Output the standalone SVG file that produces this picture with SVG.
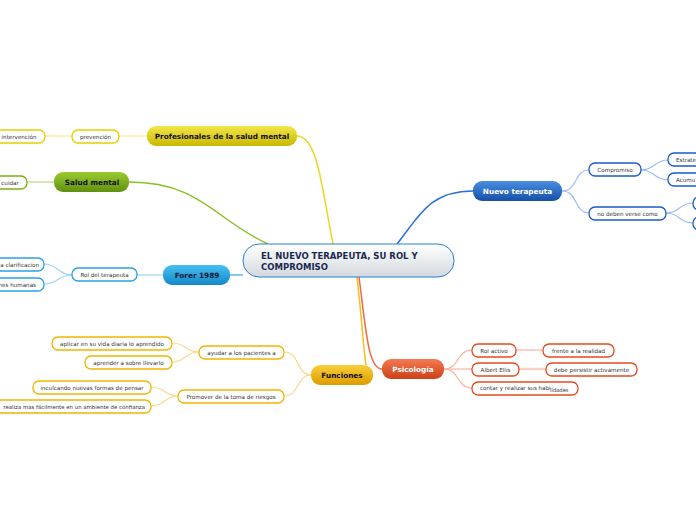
<svg xmlns="http://www.w3.org/2000/svg" width="696" height="520" viewBox="0 0 696 520">
<style>
.leaf{fill:#fff;stroke-width:1.3}
.lt,.ls,.le{font-family:"DejaVu Sans",Verdana,sans-serif;font-size:5.6px;fill:#333}
.lt{text-anchor:middle}.ls{text-anchor:start}.le{text-anchor:end}
.mt{font-family:"DejaVu Sans",Verdana,sans-serif;font-size:7.3px;font-weight:bold;text-anchor:middle}
.ct{font-family:"DejaVu Sans",Verdana,sans-serif;font-size:8.5px;font-weight:bold;fill:#1a2850}
.y{stroke:#e4d000}.g{stroke:#7ab010}.b{stroke:#2aa0e8}.nb{stroke:#1a5cc8}.r{stroke:#e84a20}.o{stroke:#f2b400}
#connectors path{fill:none}
</style>
<defs>
<linearGradient id="gc" x1="0" y1="0" x2="0" y2="1"><stop offset="0" stop-color="#ffffff"/><stop offset="1" stop-color="#d4d9de"/></linearGradient>
<linearGradient id="gy" x1="0" y1="0" x2="0" y2="1"><stop offset="0" stop-color="#f2e64a"/><stop offset="1" stop-color="#c9b800"/></linearGradient>
<linearGradient id="gg" x1="0" y1="0" x2="0" y2="1"><stop offset="0" stop-color="#9ccc30"/><stop offset="1" stop-color="#609010"/></linearGradient>
<linearGradient id="gb" x1="0" y1="0" x2="0" y2="1"><stop offset="0" stop-color="#46c0f0"/><stop offset="1" stop-color="#1488c8"/></linearGradient>
<linearGradient id="gn" x1="0" y1="0" x2="0" y2="1"><stop offset="0" stop-color="#4a8ee0"/><stop offset="1" stop-color="#1650a8"/></linearGradient>
<linearGradient id="gr" x1="0" y1="0" x2="0" y2="1"><stop offset="0" stop-color="#f47a52"/><stop offset="1" stop-color="#cc4018"/></linearGradient>
<linearGradient id="go" x1="0" y1="0" x2="0" y2="1"><stop offset="0" stop-color="#fbcf3a"/><stop offset="1" stop-color="#dc9c00"/></linearGradient>
</defs>
<rect width="696" height="520" fill="#fff"/>
<g id="connectors">
<path d="M297,136 C318,136 322,190 333,244" stroke="#e8d820" stroke-width="1.5"/>
<path d="M129,182 C200,182 215,220 268,244" stroke="#8ac020" stroke-width="1.5"/>
<path d="M230,275 L243,275" stroke="#5ab8e8" stroke-width="1.5"/>
<path d="M473,191 C430,191 420,215 397,244" stroke="#2a70d8" stroke-width="1.5"/>
<path d="M357,277 C362,320 363,345 366,365" stroke="#f6c020" stroke-width="1.5"/>
<path d="M359,277 C366,330 368,369 382,369" stroke="#ee6a40" stroke-width="1.5"/>
<g stroke="#f0ec90" stroke-width="1.2"><path d="M147,136 L119,136"/><path d="M72,136 L45,136"/></g>
<path d="M54,182 L27,182" stroke="#b8d880" stroke-width="1.2"/>
<g stroke="#9ad4f4" stroke-width="1.2"><path d="M163,275 L137,275"/><path d="M72,275 C58,275 58,264 44,264"/><path d="M72,275 C58,275 58,284 44,284"/></g>
<g stroke="#9cbcf0" stroke-width="1.2"><path d="M562,191 C578,191 574,170 589,170"/><path d="M562,191 C578,191 574,213 589,213"/><path d="M641,170 C655,170 654,160 668,160"/><path d="M641,170 C655,170 654,180 668,180"/><path d="M666,213 C680,213 679,203 693,203"/><path d="M666,213 C680,213 679,223 693,223"/></g>
<g stroke="#f8b4a0" stroke-width="1.2"><path d="M444,369 C460,369 456,350 472,350"/><path d="M444,369 L472,369"/><path d="M444,369 C460,369 456,388 472,388"/><path d="M516,350 L543,350"/><path d="M519,369 L546,369" stroke-width="2.5" stroke="#fbd0c4"/></g>
<g stroke="#f8d88c" stroke-width="1.2"><path d="M311,375 C296,375 300,352 284,352"/><path d="M311,375 C296,375 300,396 284,396"/><path d="M199,352 C185,352 186,343 172,343"/><path d="M199,352 C185,352 186,362 172,362"/><path d="M178,396 C164,396 165,387 151,387"/><path d="M178,396 C164,396 165,406 151,406"/></g>
</g>
<g id="center">
<rect x="243" y="244" width="211" height="33" rx="16" fill="url(#gc)" stroke="#2a7fd0" stroke-width="1"/>
<text class="ct" x="261" y="259">EL NUEVO TERAPEUTA, SU ROL Y</text>
<text class="ct" x="261" y="270">COMPROMISO</text>
</g>
<g id="profesionales"><rect x="147" y="126" width="150" height="20" rx="9" fill="url(#gy)"/><text class="mt" x="222" y="138.5" fill="#111">Profesionales de la salud mental</text></g>
<g id="prevencion"><rect class="leaf y" x="72" y="130" width="47" height="13" rx="6"/><text class="lt" x="95.5" y="138.5">prevención</text></g>
<g id="intervencion"><rect class="leaf y" x="-6" y="130" width="51" height="13" rx="6"/><text class="lt" x="19" y="138.5">intervención</text></g>
<g id="salud"><rect x="54" y="172" width="75" height="20" rx="9" fill="url(#gg)"/><text class="mt" x="92" y="184.5" fill="#111">Salud mental</text></g>
<g id="cuidar"><rect class="leaf g" x="-6" y="176" width="33" height="13" rx="6"/><text class="lt" x="10" y="184.5">cuidar</text></g>
<g id="forer"><rect x="163" y="265" width="67" height="20" rx="9" fill="url(#gb)"/><text class="mt" x="197" y="278" fill="#0e1a3a">Forer 1989</text></g>
<g id="rol-terapeuta"><rect class="leaf b" x="72" y="268" width="65" height="13" rx="6"/><text class="lt" x="104.5" y="276.5">Rol del terapeuta</text></g>
<g id="clarificacion"><rect class="leaf b" x="-6" y="258" width="50" height="13" rx="6"/><text class="le" x="39" y="266.5">a clarificacion</text></g>
<g id="humanas"><rect class="leaf b" x="-6" y="278" width="50" height="13" rx="6"/><text class="le" x="36" y="286.5">nes humanas</text></g>
<g id="nuevo"><rect x="473" y="181" width="89" height="20" rx="9" fill="url(#gn)"/><text class="mt" x="517.5" y="193.5" fill="#fff">Nuevo terapeuta</text></g>
<g id="compromiso"><rect class="leaf nb" x="589" y="163" width="52" height="13" rx="6"/><text class="lt" x="615" y="171.5">Compromiso</text></g>
<g id="no-deben"><rect class="leaf nb" x="589" y="207" width="77" height="13" rx="6"/><text class="lt" x="627.5" y="215.5">no deben verse como</text></g>
<g id="estrate"><rect class="leaf nb" x="668" y="153" width="40" height="13" rx="6"/><text class="ls" x="676" y="161.5">Estrate</text></g>
<g id="acumu"><rect class="leaf nb" x="668" y="173" width="40" height="13" rx="6"/><text class="ls" x="676" y="181.5">Acumu</text></g>
<g id="nd1"><rect class="leaf nb" x="693" y="197" width="20" height="13" rx="6"/></g>
<g id="nd2"><rect class="leaf nb" x="693" y="217" width="20" height="13" rx="6"/></g>
<g id="psicologia"><rect x="382" y="359" width="62" height="20" rx="9" fill="url(#gr)"/><text class="mt" x="413" y="371.5" fill="#fff">Psicología</text></g>
<g id="rol-activo"><rect class="leaf r" x="472" y="344" width="44" height="13" rx="6"/><text class="lt" x="494" y="352.5">Rol activo</text></g>
<g id="frente"><rect class="leaf r" x="543" y="344" width="71" height="13" rx="6"/><text class="lt" x="578.5" y="352.5">frente a la realidad</text></g>
<g id="albert"><rect class="leaf r" x="472" y="363" width="47" height="13" rx="6"/><text class="lt" x="495.5" y="371.5">Albert Ellis</text></g>
<g id="debe"><rect class="leaf r" x="546" y="363" width="91" height="13" rx="6"/><text class="lt" x="591.5" y="371.5">debe persistir activamente</text></g>
<g id="contar"><rect class="leaf r" x="472" y="382" width="106" height="13" rx="6"/><text class="ls" x="480" y="390">contar y realizar sus habi<tspan x="550" y="391.5" font-size="5.2">lidades</tspan></text></g>
<g id="funciones"><rect x="311" y="365" width="62" height="20" rx="9" fill="url(#go)"/><text class="mt" x="342" y="377.5" fill="#111">Funciones</text></g>
<g id="ayudar"><rect class="leaf o" x="199" y="346" width="85" height="13" rx="6"/><text class="lt" x="241.5" y="354.5">ayudar a los pacientes a</text></g>
<g id="aplicar"><rect class="leaf o" x="52" y="337" width="120" height="13" rx="6"/><text class="lt" x="112" y="345.5">aplicar en su vida diaria lo aprendido</text></g>
<g id="aprender"><rect class="leaf o" x="85" y="356" width="87" height="13" rx="6"/><text class="lt" x="128.5" y="364.5">aprender a sobre llevarlo</text></g>
<g id="promover"><rect class="leaf o" x="178" y="390" width="106" height="13" rx="6"/><text class="lt" x="231" y="398.5">Promover de la toma de riesgos</text></g>
<g id="inculcando"><rect class="leaf o" x="33" y="381" width="118" height="13" rx="6"/><text class="lt" x="92" y="389.5">inculcando nuevas formas de pensar</text></g>
<g id="realiza"><rect class="leaf o" x="-6" y="400" width="157" height="13" rx="6"/><text class="le" x="145" y="408.5" style="font-size:5.4px">realiza mas fácilmente en un ambiente de confianza</text></g>
</svg>
